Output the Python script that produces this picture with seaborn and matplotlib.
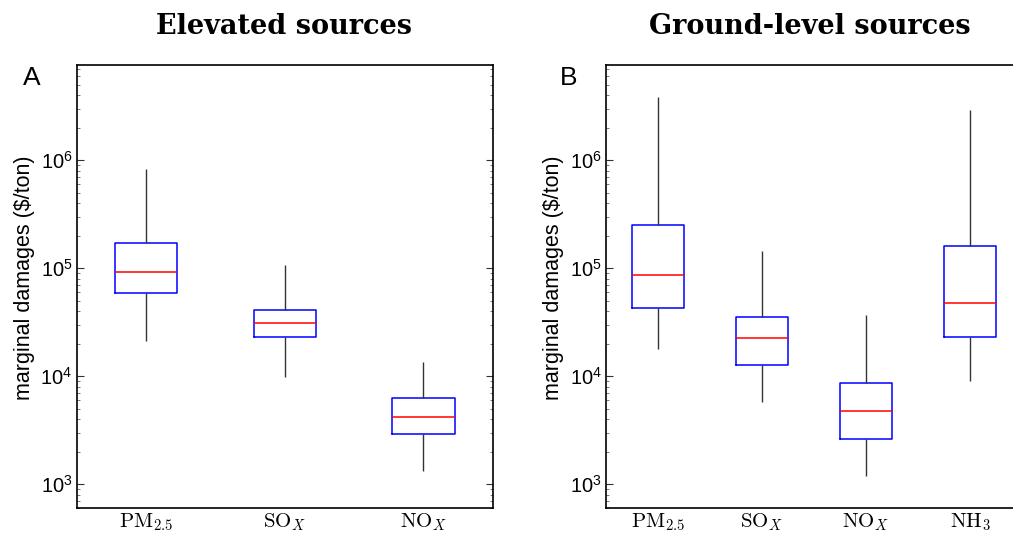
import numpy as np
import pandas as pd
import matplotlib
matplotlib.use("Agg")
import matplotlib.pyplot as plt
import seaborn as sns

# Five-number summaries ($/ton)
elev_labels = [r"$\mathrm{PM}_{2.5}$", r"$\mathrm{SO}_X$", r"$\mathrm{NO}_X$"]
elev_whislo = [2.14e4, 9.9e3, 1.34e3]
elev_q1 = [5.9e4, 2.29e4, 2.9e3]
elev_med = [9.2e4, 3.13e4, 4.2e3]
elev_q3 = [1.72e5, 4.1e4, 6.3e3]
elev_whishi = [8.2e5, 1.07e5, 1.36e4]

ground_labels = [r"$\mathrm{PM}_{2.5}$", r"$\mathrm{SO}_X$", r"$\mathrm{NO}_X$", r"$\mathrm{NH}_3$"]
ground_whislo = [1.78e4, 5.8e3, 1.19e3, 9.1e3]
ground_q1 = [4.3e4, 1.27e4, 2.6e3, 2.3e4]
ground_med = [8.7e4, 2.25e4, 4.8e3, 4.8e4]
ground_q3 = [2.53e5, 3.5e4, 8.6e3, 1.62e5]
ground_whishi = [3.83e6, 1.43e5, 3.7e4, 2.92e6]


def summary_frame(labels, lo, q1, med, q3, hi):
    # one row per summary value -> seaborn recovers the same quartiles
    rows = []
    for i, lab in enumerate(labels):
        for v in (lo[i], q1[i], med[i], q3[i], hi[i]):
            rows.append({"pollutant": lab, "value": v})
    return pd.DataFrame(rows)


elev_df = summary_frame(elev_labels, elev_whislo, elev_q1, elev_med, elev_q3, elev_whishi)
ground_df = summary_frame(ground_labels, ground_whislo, ground_q1, ground_med, ground_q3, ground_whishi)

sns.set_style("white", {"text.color": "black", "axes.labelcolor": "black",
                        "xtick.color": "black", "ytick.color": "black"})
plt.rcParams["font.family"] = ["Liberation Sans", "DejaVu Sans"]
plt.rcParams["mathtext.fontset"] = "cm"

W, H = 1013, 535
fig = plt.figure(figsize=(W / 100, H / 100), dpi=100)
axA = fig.add_axes([76.7 / W, 1 - 508.3 / H, 416 / W, 443 / H])
axB = fig.add_axes([606 / W, 1 - 508.3 / H, 416 / W, 443 / H])

panels = [
    (axA, elev_df, elev_labels, 0.45),
    (axB, ground_df, ground_labels, 0.5),
]

for ax, df, labels, width in panels:
    ax.set_yscale("log")
    sns.boxplot(data=df, x="pollutant", y="value", order=labels, ax=ax,
                fill=False, color="blue", width=width, whis=np.inf,
                showcaps=False, linewidth=1.1,
                boxprops=dict(color="blue"),
                medianprops=dict(color="red", linewidth=1.1),
                whiskerprops=dict(color="#333333", linewidth=1.0))
    ax.set_ylim(600, 7.55e6)
    ax.set_xlim(-0.5, len(labels) - 0.5)
    ax.set_xlabel("")
    ax.set_ylabel("marginal damages ($/ton)", fontsize=15.5)
    ax.yaxis.set_label_coords(-0.10, 0.52)
    ax.tick_params(axis="x", length=0, pad=2, labelsize=15)
    ax.tick_params(axis="y", which="major", direction="in", length=5,
                   left=True, right=True, labelsize=14.5, pad=3, color="#333333")
    ax.tick_params(axis="y", which="minor", direction="in", length=2.5,
                   left=True, right=True, color="#666666")
    for s in ax.spines.values():
        s.set_visible(True)
        s.set_color("black")
        s.set_linewidth(1.2)

# titles and panel letters
fig.text(283.5 / W, 1 - 26 / H, "Elevated sources", family="DejaVu Serif",
         weight="bold", fontsize=19.5, ha="center", va="center")
fig.text(810 / W, 1 - 26 / H, "Ground-level sources", family="DejaVu Serif",
         weight="bold", fontsize=19.5, ha="center", va="center")
fig.text(31.5 / W, 1 - 78 / H, "A", fontsize=19, ha="center", va="center")
fig.text(569 / W, 1 - 78 / H, "B", fontsize=19, ha="center", va="center")

fig.savefig("out.png", dpi=100)
